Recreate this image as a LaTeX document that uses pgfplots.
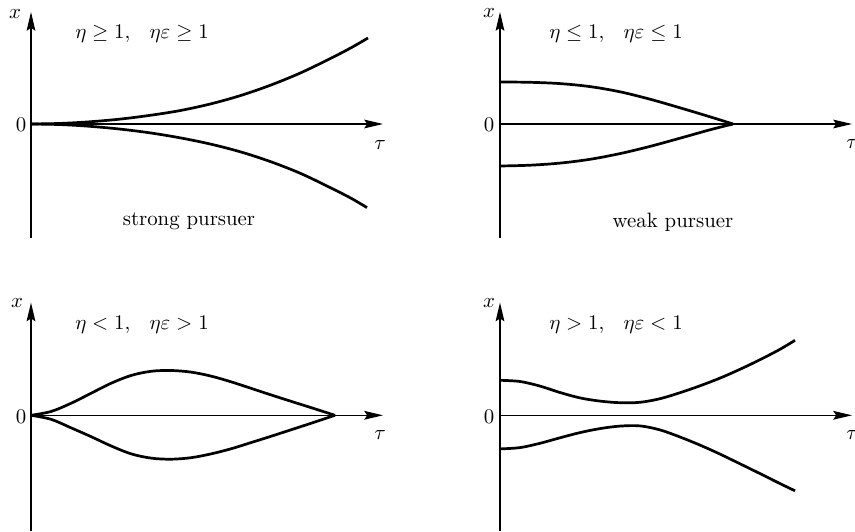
\documentclass[border=0pt]{standalone}
\usepackage{pgfplots}
\pgfplotsset{compat=1.18}
\usetikzlibrary{arrows.meta}

% one pixel of the reference = 0.48pt
\pgfplotsset{
  phase/.style={
    x=0.48pt, y=0.48pt,
    axis lines=middle,
    axis line style={line width=0.6pt,
      -{Stealth[length=9pt,width=4.2pt,inset=1.4pt]}},
    xtick=\empty, ytick=\empty,
    xmin=0, xmax=352,
    enlargelimits=false,
    clip=false,
    anchor=south west,
  },
  traj/.style={line width=1.3pt, smooth, tension=0.55, no markers, black},
}
\newcommand{\gap}{\hspace{7.6pt}}

\begin{document}
\begin{tikzpicture}
\path[use as bounding box] (0,0) rectangle (410.4pt,254.88pt);

% strong pursuer
\begin{axis}[phase, ymin=-114, ymax=112, at={(14.88pt,140.64pt)}]
\addplot[traj] coordinates {
  (0,0) (30,0.6) (60,2.3) (90,5) (120,8.8) (150,13.6) (180,20.2) (210,28.6)
  (240,39) (270,51.3) (300,65.8) (320,76.2) (337,86)};
\addplot[traj] coordinates {
  (0,0) (30,-0.6) (60,-2.4) (90,-5.2) (120,-9) (150,-14) (180,-20.2)
  (210,-28) (240,-37.8) (270,-49.6) (300,-64) (320,-74.2) (336,-83.6)};
\node at (-16,110) {$x$};
\node at (-10,-1) {$0$};
\node at (349,-21) {$\tau$};
\node at (111,90) {$\eta\geq 1,\gap \eta\varepsilon\geq 1$};
\node at (158,-97) {strong pursuer};
\end{axis}

% weak pursuer
\begin{axis}[phase, ymin=-114, ymax=112, at={(240pt,140.64pt)}]
\addplot[traj] coordinates {
  (0,42) (30,41.7) (60,40.4) (90,37.4) (120,32.2) (150,24.8) (180,16.2)
  (210,7.2) (233,0)};
\addplot[traj] coordinates {
  (0,-42) (30,-41.2) (60,-39.1) (90,-35.3) (120,-29.6) (150,-22.4)
  (180,-14.2) (210,-5.8) (233,0)};
\node at (-11,111) {$x$};
\node at (-11,-1) {$0$};
\node at (352,-20) {$\tau$};
\node at (116,90) {$\eta\leq 1,\gap \eta\varepsilon\leq 1$};
\node at (173,-98) {weak pursuer};
\end{axis}

% eta < 1, eta eps > 1
\begin{axis}[phase, ymin=-115.7, ymax=112.7, at={(14.88pt,0pt)}]
\addplot[traj] coordinates {
  (0,0) (20,3.8) (40,12) (60,22) (80,32) (100,39.8) (120,44) (140,44.8)
  (160,43.2) (180,39.2) (200,33.5) (220,27) (240,20.4) (260,14) (280,7.7)
  (304,0)};
\addplot[traj] coordinates {
  (0,0) (20,-4) (40,-12.5) (60,-21.3) (80,-30.6) (100,-38.5) (120,-42.8)
  (140,-43.9) (160,-42.4) (180,-38.6) (200,-33.5) (220,-27.3) (240,-21)
  (260,-14.5) (280,-8) (304,0)};
\node at (-14,112) {$x$};
\node at (-10,-1) {$0$};
\node at (349,-20) {$\tau$};
\node at (111,90) {$\eta<1,\gap \eta\varepsilon>1$};
\end{axis}

% eta > 1, eta eps < 1
\begin{axis}[phase, ymin=-115.7, ymax=112.7, at={(240pt,0pt)}]
\addplot[traj] coordinates {
  (0,35) (20,33.8) (40,29.2) (60,22.8) (80,17.4) (100,14.2) (120,12.6)
  (140,13) (160,16.6) (180,22.6) (200,29.5) (220,37.2) (240,46) (260,55.6)
  (280,66) (295,75)};
\addplot[traj] coordinates {
  (0,-33.6) (20,-32.3) (40,-28) (60,-22.5) (80,-17.3) (100,-13.3)
  (120,-10.8) (140,-10.6) (160,-14.6) (180,-21.7) (200,-29.8) (220,-38.8)
  (240,-48.5) (260,-58.3) (280,-68.3) (295,-75.5)};
\node at (-11,112) {$x$};
\node at (-11,-1) {$0$};
\node at (352,-20) {$\tau$};
\node at (116,90) {$\eta>1,\gap \eta\varepsilon<1$};
\end{axis}
\end{tikzpicture}
\end{document}
